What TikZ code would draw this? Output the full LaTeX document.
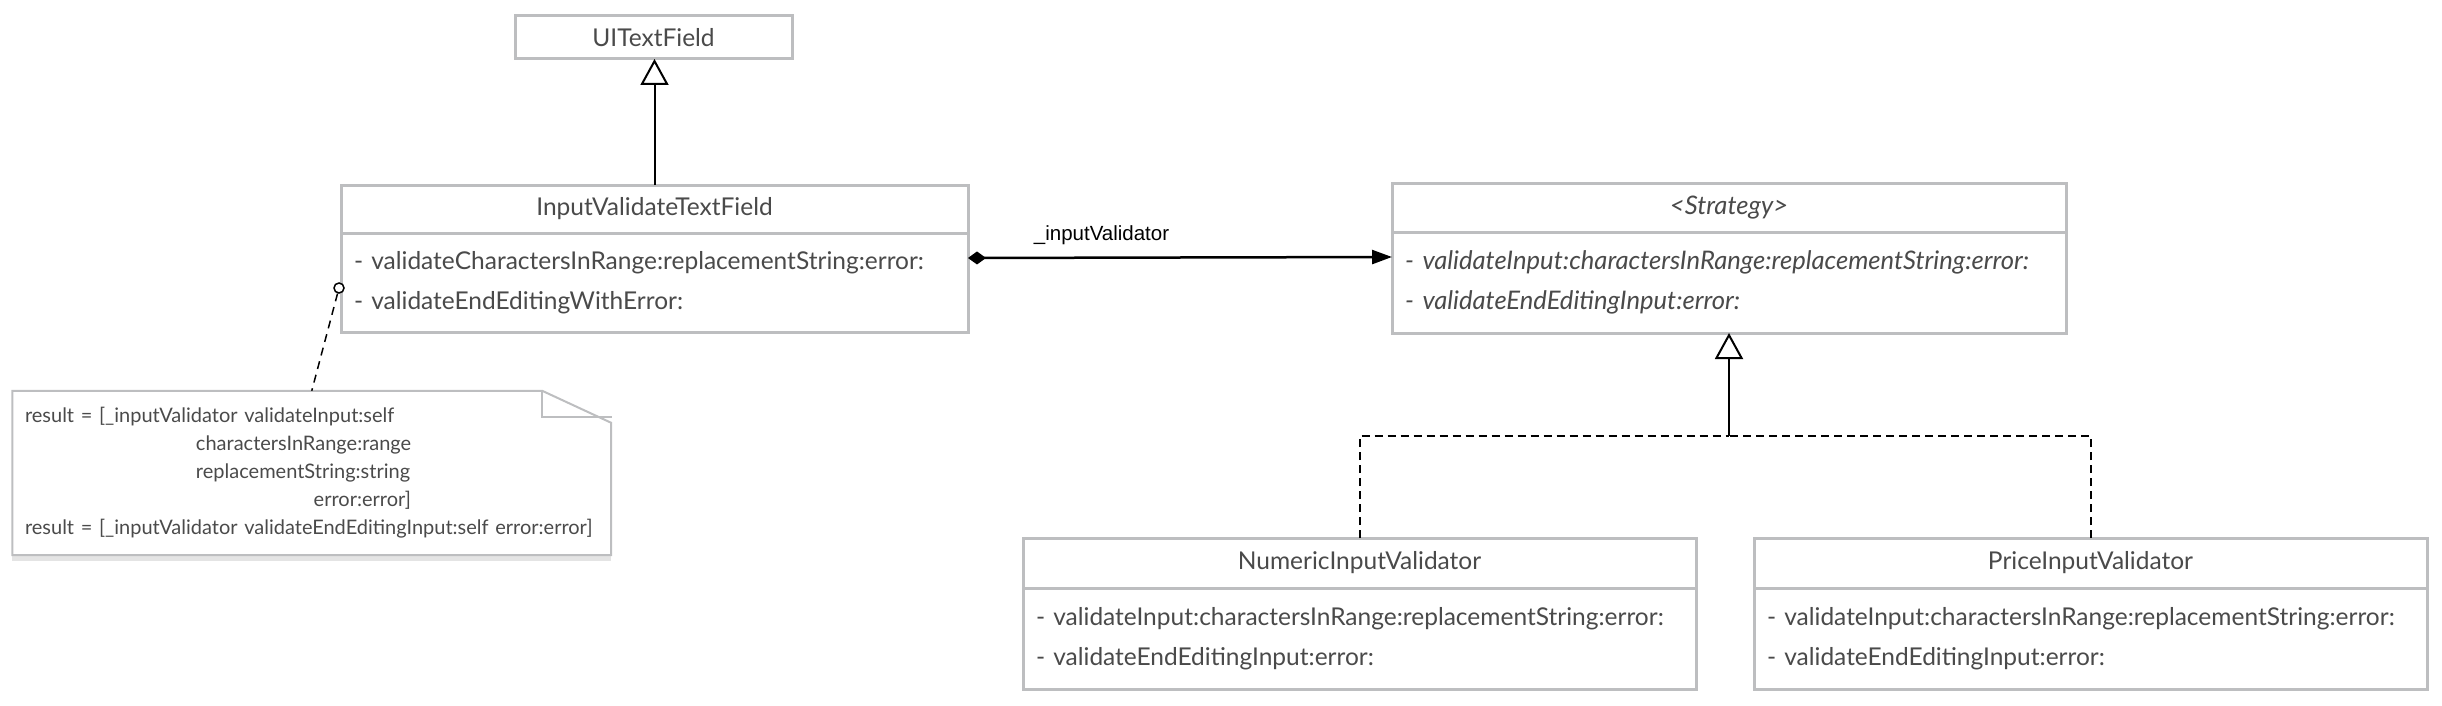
\documentclass[tikz,border=0pt]{standalone}
\usepackage{fontspec}
\setmainfont{Lato}
\newfontfamily\linkfont{Liberation Sans}
\usetikzlibrary{arrows.meta,positioning}
\definecolor{umlgray}{RGB}{189,190,192}
\definecolor{umltext}{RGB}{74,74,74}
\definecolor{shadowgray}{RGB}{228,228,228}
\newcommand{\classfont}{\fontsize{24.5}{40}\selectfont}
\newcommand{\ifacefont}{\fontsize{25.6}{40}\selectfont\itshape}
\newcommand{\notefont}{\fontsize{20}{28}\selectfont}

\begin{document}
\begin{tikzpicture}[x=1pt, y=-1pt,
  classhead/.style={draw=umlgray, line width=3pt, fill=white, outer sep=0pt, inner sep=0pt, text=umltext, font=\classfont},
  classbody/.style={classhead, inner xsep=13pt, align=left},
  notebox/.style={inner xsep=12.5pt, inner ysep=0pt, align=left, text=umltext, font=\notefont},
  inherit/.style={line width=2pt, -{Triangle[open, length=26pt, width=28pt]}},
  realize/.style={line width=2pt, dash pattern=on 8pt off 5pt},
  compose/.style={line width=2.5pt, {Diamond[length=18pt, width=13pt]}-{Triangle[length=20pt, width=14pt]}},
  notelink/.style={line width=1.5pt, dash pattern=on 8pt off 6pt}]

  \useasboundingbox (0,0) rectangle (2442,706);

  % classes
  \node[classhead, minimum width=277pt, minimum height=43pt] (UI) at (653.5,37.5) {UITextField};

  \node[classhead, minimum width=627pt, minimum height=48pt] (IV) at (654.5,209) {InputValidateTextField};
  \node[classbody, minimum width=627pt, minimum height=99pt, text width=601pt, below=0pt of IV] (IVb)
    {- validateCharactersInRange:replacementString:error:\\- validateEndEditingWithError:};

  \node[classhead, minimum width=674pt, minimum height=49pt, font=\ifacefont] (ST) at (1729,207.5) {<Strategy>};
  \node[classbody, minimum width=674pt, minimum height=101pt, text width=648pt, font=\ifacefont, below=0pt of ST] (STb)
    {- validateInput:charactersInRange:replacementString:error:\\- validateEndEditingInput:error:};

  \node[classhead, minimum width=673pt, minimum height=50pt] (NUM) at (1359.5,563) {NumericInputValidator};
  \node[classbody, minimum width=673pt, minimum height=101pt, text width=647pt, below=0pt of NUM] (NUMb)
    {- validateInput:charactersInRange:replacementString:error:\\- validateEndEditingInput:error:};

  \node[classhead, minimum width=673pt, minimum height=50pt] (PR) at (2090.5,563) {PriceInputValidator};
  \node[classbody, minimum width=673pt, minimum height=101pt, text width=647pt, below=0pt of PR] (PRb)
    {- validateInput:charactersInRange:replacementString:error:\\- validateEndEditingInput:error:};

  % note
  \node[notebox, minimum width=598.5pt, minimum height=164pt, text width=573.5pt] (note) at (311.75,473)
    {result = [\_inputValidator validateInput:self\\
     \hspace*{171pt}charactersInRange:range\\
     \hspace*{171pt}replacementString:string\\
     \makebox[386pt][r]{error:error]}\\
     result = [\_inputValidator validateEndEditingInput:self error:error]};
  \fill[shadowgray] ([yshift=-1pt]note.south west) rectangle ([yshift=-6pt]note.south east);
  \draw[umlgray, line width=2pt] (note.south west) -- (note.north west) -- ([xshift=-69pt]note.north east)
    -- ([yshift=-32pt]note.north east) -- (note.south east) -- cycle;
  \draw[umlgray, line width=2pt] ([xshift=-69pt]note.north east) -- ++(0,26) -- ++(70,0);

  \node[circle, draw, fill=white, line width=1.5pt, minimum size=10pt, inner sep=0pt] (pin) at (339,288) {};
  \draw[notelink] (pin) -- (note.north);

  % connectors
  \draw[inherit] (IV.north) -- (IV.north |- UI.south);
  \draw[compose] ([yshift=-25pt]IVb.north east) --
    node[pos=0.315, anchor=base, yshift=17pt, font=\linkfont\fontsize{20.5}{24}\selectfont] (link) {\_inputValidator}
    ([yshift=-25pt]STb.north west);

  \coordinate (bus) at (STb.south |- 0,436);
  \draw[inherit] (bus) -- (STb.south);
  \draw[realize] (NUM.north) |- (bus);
  \draw[realize] (PR.north) |- (bus);
\end{tikzpicture}
\end{document}
